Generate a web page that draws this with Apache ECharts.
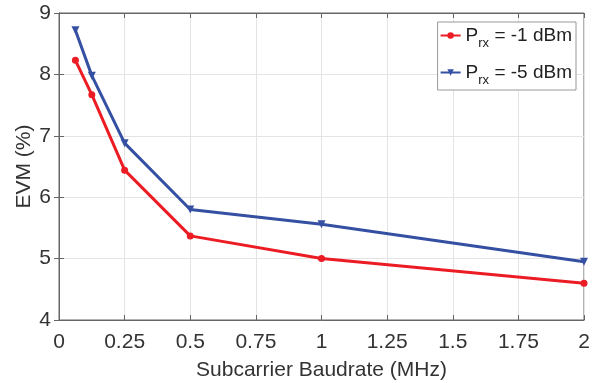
<!DOCTYPE html>
<html>
<head>
<meta charset="utf-8">
<script src="https://cdn.jsdelivr.net/npm/echarts@6/dist/echarts.min.js"></script>
<style>
  html, body { margin: 0; padding: 0; background: #fff; }
  #chart { width: 600px; height: 383px; }
</style>
</head>
<body>
<div id="chart"></div>
<script>
// data
var baudrate = [0.0625, 0.125, 0.25, 0.5, 1, 2];
var evmMinus1 = [8.23, 7.67, 6.44, 5.37, 5.0, 4.6];
var evmMinus5 = [8.72, 7.98, 6.88, 5.80, 5.56, 4.95];
var seriesNames = ['Prx = -1 dBm', 'Prx = -5 dBm'];
var legendLabels = {
  'Prx = -1 dBm': '{p|P}{s|rx}{p| = -1 dBm}',
  'Prx = -5 dBm': '{p|P}{s|rx}{p| = -5 dBm}'
};

function pairs(xs, ys) {
  return xs.map(function (x, i) { return [x, ys[i]]; });
}

var font = 'Liberation Sans, Arial, sans-serif';
var chart = echarts.init(document.getElementById('chart'));

var option = {
  backgroundColor: '#fff',
  animation: false,
  grid: {
    left: 59, right: 16, top: 13, bottom: 63,
    outerBoundsMode: 'none',
    show: true, borderColor: '#666', borderWidth: 1
  },
  legend: {
    data: seriesNames,
    orient: 'vertical',
    right: 24,
    top: 22,
    itemWidth: 20,
    itemHeight: 8,
    itemGap: 13,
    padding: [4, 4, 3, 2],
    backgroundColor: '#fff',
    borderColor: '#999',
    borderWidth: 1,
    formatter: function (name) { return legendLabels[name]; },
    textStyle: {
      fontFamily: font,
      rich: {
        p: { fontSize: 19, color: '#222', fontFamily: font },
        s: { fontSize: 13, color: '#222', fontFamily: font, padding: [16, 0, 0, 0] }
      }
    }
  },
  xAxis: [{
    type: 'value',
    min: 0, max: 2, interval: 0.25,
    name: 'Subcarrier Baudrate (MHz)',
    nameLocation: 'middle',
    nameGap: 40,
    nameMoveOverlap: false,
    nameTextStyle: { fontFamily: font, fontSize: 21, color: '#333' },
    axisLine: { show: true, lineStyle: { color: '#666' } },
    axisTick: { show: true, inside: true, length: 5, lineStyle: { color: '#666' } },
    axisLabel: { fontFamily: font, fontSize: 21, color: '#333', margin: 12 },
    splitLine: { show: true, lineStyle: { color: '#e4e4e4' } }
  }, {
    type: 'value', position: 'top',
    min: 0, max: 2, interval: 0.25,
    axisLine: { show: true, lineStyle: { color: '#666' } },
    axisTick: { show: true, inside: true, length: 5, lineStyle: { color: '#666' } },
    axisLabel: { show: false },
    splitLine: { show: false }
  }],
  yAxis: [{
    type: 'value',
    min: 4, max: 9, interval: 1,
    name: 'EVM (%)',
    nameLocation: 'middle',
    nameGap: 24,
    nameMoveOverlap: false,
    nameTextStyle: { fontFamily: font, fontSize: 21, color: '#333' },
    axisLine: { show: true, lineStyle: { color: '#666' } },
    axisTick: { show: true, inside: true, length: 5, lineStyle: { color: '#666' } },
    axisLabel: { fontFamily: font, fontSize: 21, color: '#333', margin: 8 },
    splitLine: { show: true, lineStyle: { color: '#e4e4e4' } }
  }, {
    type: 'value', position: 'right',
    min: 4, max: 9, interval: 1,
    axisLine: { show: true, lineStyle: { color: '#666' } },
    axisTick: { show: true, inside: true, length: 5, lineStyle: { color: '#666' } },
    axisLabel: { show: false },
    splitLine: { show: false }
  }],
  series: [{
    name: seriesNames[0],
    type: 'line',
    data: pairs(baudrate, evmMinus1),
    symbol: 'circle',
    symbolSize: 7,
    lineStyle: { color: '#ec1c24', width: 3 },
    itemStyle: { color: '#ec1c24' },
    z: 3
  }, {
    name: seriesNames[1],
    type: 'line',
    data: pairs(baudrate, evmMinus5),
    symbol: 'triangle',
    symbolRotate: 180,
    symbolSize: 8,
    lineStyle: { color: '#3550a2', width: 3 },
    itemStyle: { color: '#3550a2' },
    z: 2
  }]
};

chart.setOption(option);
</script>
</body>
</html>
